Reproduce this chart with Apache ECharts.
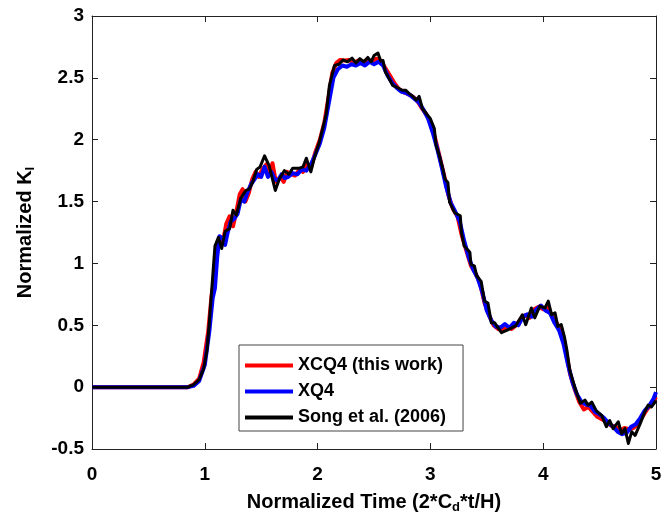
<!DOCTYPE html>
<html>
<head>
<meta charset="utf-8">
<script src="https://cdn.jsdelivr.net/npm/echarts@6/dist/echarts.min.js"></script>
<style>html,body{margin:0;padding:0;background:#fff}#c{width:670px;height:513px}</style>
</head>
<body>
<div id="c"></div>
<script>
var seriesNames = ['XCQ4 (this work)', 'XQ4', 'Song et al. (2006)'];
var xTicks = [0, 1, 2, 3, 4, 5];
var yTicks = [-0.5, 0, 0.5, 1, 1.5, 2, 2.5, 3];

var xcq4 = [[0,0],[0.85,0],[0.9,0.02],[0.95,0.07],[0.99,0.2],[1.03,0.45],[1.06,0.74],[1.08,0.85],[1.10,1.10],[1.13,1.18],[1.16,1.17],[1.19,1.32],[1.22,1.38],[1.25,1.30],[1.28,1.42],[1.31,1.56],[1.335,1.60],[1.36,1.50],[1.39,1.57],[1.42,1.68],[1.45,1.74],[1.48,1.70],[1.51,1.76],[1.545,1.80],[1.57,1.72],[1.60,1.81],[1.63,1.66],[1.67,1.70],[1.70,1.66],[1.73,1.74],[1.77,1.72],[1.80,1.71],[1.84,1.76],[1.87,1.74],[1.90,1.80],[1.94,1.77],[1.98,1.90],[2.02,2.0],[2.06,2.14],[2.10,2.36],[2.13,2.54],[2.165,2.62],[2.20,2.645],[2.24,2.64],[2.28,2.645],[2.32,2.62],[2.36,2.64],[2.40,2.62],[2.44,2.65],[2.48,2.63],[2.52,2.655],[2.56,2.64],[2.60,2.58],[2.64,2.52],[2.68,2.46],[2.72,2.41],[2.76,2.385],[2.80,2.37],[2.84,2.35],[2.88,2.32],[2.92,2.26],[2.96,2.21],[3.0,2.14],[3.04,2.02],[3.08,1.87],[3.12,1.72],[3.16,1.55],[3.20,1.44],[3.24,1.38],[3.28,1.22],[3.32,1.10],[3.36,0.98],[3.40,0.92],[3.44,0.84],[3.48,0.68],[3.52,0.58],[3.56,0.50],[3.60,0.47],[3.64,0.46],[3.68,0.49],[3.72,0.47],[3.76,0.50],[3.80,0.55],[3.84,0.58],[3.88,0.56],[3.92,0.63],[3.96,0.65],[4.0,0.63],[4.04,0.64],[4.08,0.57],[4.12,0.52],[4.16,0.44],[4.20,0.30],[4.24,0.10],[4.28,-0.02],[4.32,-0.12],[4.36,-0.18],[4.40,-0.16],[4.44,-0.20],[4.48,-0.24],[4.52,-0.26],[4.56,-0.28],[4.60,-0.31],[4.64,-0.32],[4.68,-0.35],[4.72,-0.33],[4.76,-0.34],[4.80,-0.33],[4.84,-0.30],[4.88,-0.24],[4.92,-0.18],[4.96,-0.14],[5.0,-0.08]];

var xq4 = [[0,0],[0.85,0],[0.9,0.01],[0.95,0.05],[1.0,0.18],[1.04,0.45],[1.07,0.72],[1.09,0.80],[1.11,1.05],[1.13,1.22],[1.16,1.20],[1.18,1.15],[1.20,1.24],[1.23,1.34],[1.26,1.36],[1.29,1.40],[1.32,1.52],[1.35,1.50],[1.38,1.58],[1.41,1.64],[1.44,1.68],[1.47,1.72],[1.50,1.70],[1.53,1.78],[1.56,1.70],[1.59,1.74],[1.62,1.68],[1.65,1.67],[1.68,1.72],[1.71,1.69],[1.74,1.70],[1.78,1.73],[1.82,1.72],[1.86,1.76],[1.90,1.75],[1.94,1.80],[1.98,1.88],[2.02,1.97],[2.06,2.10],[2.10,2.30],[2.14,2.50],[2.18,2.57],[2.22,2.60],[2.26,2.59],[2.30,2.61],[2.34,2.60],[2.38,2.62],[2.42,2.60],[2.46,2.63],[2.50,2.61],[2.54,2.63],[2.58,2.60],[2.62,2.52],[2.66,2.46],[2.70,2.42],[2.74,2.39],[2.78,2.38],[2.82,2.36],[2.86,2.33],[2.90,2.30],[2.94,2.24],[2.98,2.17],[3.02,2.06],[3.06,1.93],[3.10,1.78],[3.14,1.62],[3.18,1.49],[3.22,1.42],[3.26,1.34],[3.30,1.18],[3.34,1.05],[3.38,0.95],[3.42,0.88],[3.46,0.77],[3.50,0.62],[3.54,0.54],[3.58,0.49],[3.62,0.48],[3.66,0.51],[3.70,0.48],[3.74,0.52],[3.78,0.50],[3.82,0.57],[3.86,0.59],[3.90,0.57],[3.94,0.63],[3.98,0.66],[4.02,0.62],[4.06,0.60],[4.10,0.52],[4.14,0.46],[4.18,0.35],[4.22,0.18],[4.26,0.04],[4.30,-0.06],[4.34,-0.12],[4.38,-0.14],[4.42,-0.15],[4.46,-0.20],[4.50,-0.22],[4.54,-0.25],[4.58,-0.29],[4.62,-0.32],[4.66,-0.36],[4.70,-0.38],[4.74,-0.37],[4.78,-0.32],[4.82,-0.30],[4.86,-0.25],[4.90,-0.19],[4.94,-0.15],[4.98,-0.09],[5.0,-0.04]];

var song = [[0,0],[0.85,0],[0.9,0.02],[0.95,0.06],[0.99,0.15],[1.02,0.30],[1.04,0.52],[1.055,0.71],[1.09,1.14],[1.12,1.21],[1.15,1.12],[1.18,1.26],[1.22,1.28],[1.25,1.43],[1.28,1.39],[1.32,1.53],[1.365,1.59],[1.395,1.60],[1.425,1.66],[1.46,1.76],[1.49,1.78],[1.53,1.87],[1.57,1.79],[1.625,1.59],[1.66,1.68],[1.705,1.75],[1.745,1.72],[1.78,1.77],[1.84,1.77],[1.87,1.78],[1.90,1.85],[1.94,1.74],[1.97,1.85],[2.015,1.98],[2.045,2.09],[2.075,2.2],[2.105,2.44],[2.15,2.60],[2.19,2.61],[2.225,2.645],[2.265,2.63],[2.305,2.66],[2.34,2.62],[2.375,2.655],[2.41,2.63],[2.445,2.665],[2.475,2.63],[2.50,2.68],[2.535,2.70],[2.56,2.635],[2.58,2.64],[2.60,2.55],[2.63,2.50],[2.665,2.44],[2.71,2.42],[2.75,2.40],[2.78,2.40],[2.81,2.375],[2.845,2.35],[2.875,2.32],[2.90,2.35],[2.93,2.25],[2.965,2.21],[3.0,2.17],[3.035,2.09],[3.05,1.955],[3.08,1.87],[3.11,1.765],[3.13,1.68],[3.155,1.655],[3.17,1.495],[3.215,1.41],[3.265,1.385],[3.275,1.25],[3.30,1.14],[3.35,1.09],[3.36,0.99],[3.39,0.98],[3.41,0.90],[3.45,0.855],[3.48,0.695],[3.51,0.68],[3.54,0.52],[3.57,0.52],[3.63,0.44],[3.69,0.465],[3.755,0.495],[3.815,0.585],[3.845,0.505],[3.895,0.64],[3.925,0.56],[3.97,0.655],[4.015,0.64],[4.045,0.695],[4.075,0.585],[4.105,0.60],[4.13,0.49],[4.16,0.505],[4.19,0.40],[4.21,0.30],[4.235,0.14],[4.28,0.0],[4.31,-0.08],[4.33,-0.13],[4.37,-0.105],[4.40,-0.145],[4.43,-0.12],[4.47,-0.19],[4.52,-0.23],[4.56,-0.32],[4.59,-0.27],[4.62,-0.335],[4.665,-0.28],[4.695,-0.375],[4.725,-0.335],[4.755,-0.455],[4.785,-0.36],[4.815,-0.39],[4.86,-0.295],[4.90,-0.20],[4.93,-0.145],[4.96,-0.16],[5.0,-0.11]];

var FONT = '"Liberation Sans", Arial, sans-serif';
var chart = echarts.init(document.getElementById('c'), null, {renderer: 'canvas'});

function axisBase(showLabels, margin) {
  return {
    type: 'value',
    axisLine: {show: true, onZero: false, lineStyle: {color: '#222', width: 1}},
    axisTick: {show: true, inside: true, length: 6, lineStyle: {color: '#222', width: 1}},
    splitLine: {show: false},
    axisLabel: {show: showLabels, color: '#000', fontFamily: FONT, fontWeight: 'bold', fontSize: 19, margin: margin}
  };
}
var titleStyle = {color: '#000', fontFamily: FONT, fontWeight: 'bold', fontSize: 20,
  rich: {sub: {fontFamily: FONT, fontWeight: 'bold', fontSize: 13, padding: [10, 0, 0, 0], color: '#000'}}};

var xB = axisBase(true, 16);
xB.min = xTicks[0]; xB.max = xTicks[xTicks.length - 1]; xB.interval = 1; xB.position = 'bottom';
xB.name = 'Normalized Time (2*C{sub|d}*t/H)';
xB.nameLocation = 'middle'; xB.nameGap = 42;
xB.nameTextStyle = titleStyle;
var xT = axisBase(false, 8);
xT.min = xTicks[0]; xT.max = xTicks[xTicks.length - 1]; xT.interval = 1; xT.position = 'top';

var yL = axisBase(true, 8);
yL.min = yTicks[0]; yL.max = yTicks[yTicks.length - 1]; yL.interval = 0.5; yL.position = 'left';
yL.name = 'Normalized K{sub|I}';
yL.nameLocation = 'middle'; yL.nameGap = 55; yL.nameRotate = 90;
yL.nameTextStyle = titleStyle;
var yR = axisBase(false, 8);
yR.min = yTicks[0]; yR.max = yTicks[yTicks.length - 1]; yR.interval = 0.5; yR.position = 'right';

function lineSeries(name, data, color, width) {
  return {
    name: name, type: 'line', data: data, showSymbol: false, symbol: 'none',
    xAxisIndex: 0, yAxisIndex: 0, animation: false,
    lineStyle: {color: color, width: width, join: 'round'}, itemStyle: {color: color}
  };
}

chart.setOption({
  animation: false,
  backgroundColor: '#fff',
  grid: {left: 92, right: 14, top: 16, bottom: 64, containLabel: false, outerBoundsMode: 'none'},
  xAxis: [xB, xT],
  yAxis: [yL, yR],
  legend: {
    data: seriesNames,
    orient: 'vertical',
    left: 239, top: 345,
    backgroundColor: '#fff',
    borderColor: '#444', borderWidth: 1,
    padding: [11, 17, 4, 6],
    itemGap: 7,
    itemWidth: 48, itemHeight: 4,
    icon: 'rect',
    textStyle: {color: '#000', fontFamily: FONT, fontWeight: 'bold', fontSize: 18, lineHeight: 19}
  },
  series: [
    lineSeries(seriesNames[0], xcq4, '#ff0000', 4),
    lineSeries(seriesNames[1], xq4, '#0000ff', 4),
    lineSeries(seriesNames[2], song, '#000000', 3)
  ]
});
</script>
</body>
</html>
